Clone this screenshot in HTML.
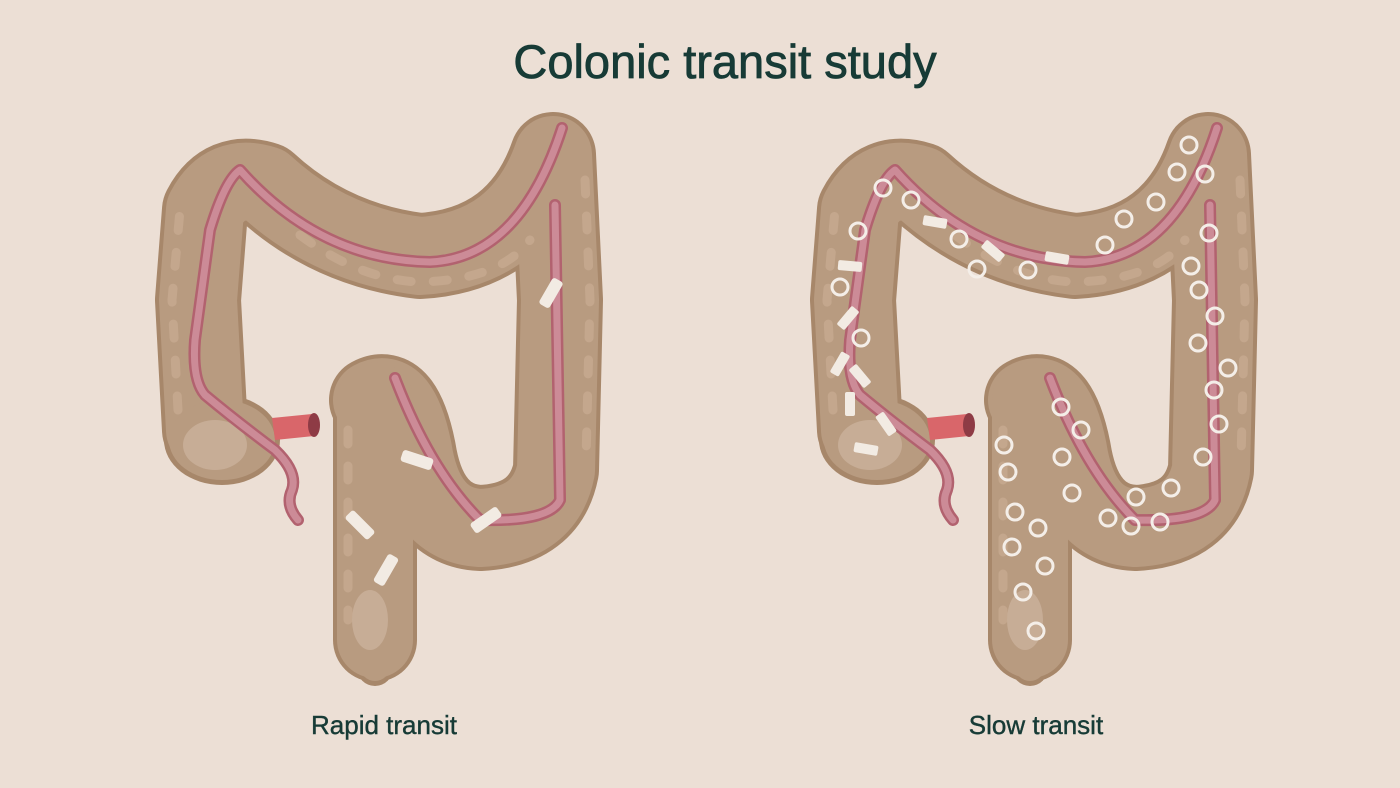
<!DOCTYPE html>
<html><head><style>
html,body{margin:0;padding:0;background:#ecdfd5;}
svg{display:block}
text{font-family:"Liberation Sans",sans-serif;fill:#173b36}
</style></head><body>
<svg width="1400" height="788" viewBox="0 0 1400 788">
<defs>
<g id="colon">
  <g fill="none" stroke="#a7876a" stroke-linecap="round" stroke-linejoin="round">
    <path d="M205,430 L198,300 L205,210 Q225,172 265,185 Q330,245 420,256 Q520,250 553,155 L560,300 L556,470 Q545,525 480,528 Q425,525 413,450 Q400,385 372,400" stroke-width="86"/>
    <path d="M375,400 L375,640" stroke-width="84"/>
    <path d="M375,640 L375,668" stroke-width="36"/>
  </g>
  <ellipse cx="222" cy="440" rx="58" ry="45" fill="#a7876a"/>
  <g fill="none" stroke="#b89b80" stroke-linecap="round" stroke-linejoin="round">
    <path d="M205,430 L198,300 L205,210 Q225,172 265,185 Q330,245 420,256 Q520,250 553,155 L560,300 L556,470 Q545,525 480,528 Q425,525 413,450 Q400,385 372,400" stroke-width="78"/>
    <path d="M375,400 L375,640" stroke-width="76"/>
    <path d="M375,640 L375,666" stroke-width="30"/>
  </g>
  <ellipse cx="222" cy="440" rx="53" ry="40" fill="#b89b80"/>
  <g fill="none" stroke="#c4a78d" stroke-width="9" stroke-linecap="round" stroke-dasharray="14 22">
    <path d="M178,410 L172,300 L180,210"/>
    <path d="M585,180 L590,300 L586,460"/>
    <path d="M300,235 Q360,280 420,282 Q500,280 530,240"/>
    <path d="M348,430 L348,620"/>
  </g>
  <ellipse cx="215" cy="445" rx="32" ry="25" fill="#c7ad96"/>
  <ellipse cx="370" cy="620" rx="18" ry="30" fill="#c7ad96"/>
  <path d="M272,418 L312,414 L314,436 L275,440 Z" fill="#d9666a"/>
  <ellipse cx="314" cy="425" rx="6" ry="12" fill="#8e3b45"/>
  <g fill="none" stroke-linecap="round" stroke-linejoin="round">
    <path d="M298,520 Q285,505 292,490 Q298,472 275,450 Q235,420 205,395 Q192,380 195,340 L210,230 Q225,180 240,170 Q320,260 430,262 Q520,258 562,128 M555,205 L560,500 Q550,522 480,520 Q430,470 395,378" stroke="#b2626f" stroke-width="12"/>
    <path d="M298,520 Q285,505 292,490 Q298,472 275,450 Q235,420 205,395 Q192,380 195,340 L210,230 Q225,180 240,170 Q320,260 430,262 Q520,258 562,128 M555,205 L560,500 Q550,522 480,520 Q430,470 395,378" stroke="#cc8b97" stroke-width="7"/>
  </g>
</g>
</defs>
<text x="725" y="78" font-size="47" text-anchor="middle" stroke="#173b36" stroke-width="0.8">Colonic transit study</text>
<text x="384" y="734" font-size="26" text-anchor="middle" stroke="#173b36" stroke-width="0.4">Rapid transit</text>
<text x="1036" y="734" font-size="26" text-anchor="middle" stroke="#173b36" stroke-width="0.4">Slow transit</text>

<use href="#colon"/>
<g fill="#f2ebe3">
  <rect x="-6" y="-15" width="12" height="30" rx="3" transform="translate(551,293) rotate(30)"/>
  <rect x="-6" y="-16" width="12" height="32" rx="3" transform="translate(417,460) rotate(-72)"/>
  <rect x="-6" y="-16" width="12" height="32" rx="3" transform="translate(486,520) rotate(55)"/>
  <rect x="-6" y="-16" width="12" height="32" rx="3" transform="translate(360,525) rotate(-45)"/>
  <rect x="-6" y="-16" width="12" height="32" rx="3" transform="translate(386,570) rotate(30)"/>
</g>

<use href="#colon" transform="translate(655,0)"/>
<g fill="#f2ebe3">
  <rect x="-5" y="-12" width="10" height="24" rx="2" transform="translate(935,222) rotate(-80)"/>
  <rect x="-5" y="-12" width="10" height="24" rx="2" transform="translate(993,251) rotate(-50)"/>
  <rect x="-5" y="-12" width="10" height="24" rx="2" transform="translate(1057,258) rotate(-80)"/>
  <rect x="-5" y="-12" width="10" height="24" rx="2" transform="translate(850,266) rotate(-85)"/>
  <rect x="-5" y="-12" width="10" height="24" rx="2" transform="translate(848,318) rotate(40)"/>
  <rect x="-5" y="-12" width="10" height="24" rx="2" transform="translate(840,364) rotate(30)"/>
  <rect x="-5" y="-12" width="10" height="24" rx="2" transform="translate(860,376) rotate(-40)"/>
  <rect x="-5" y="-12" width="10" height="24" rx="2" transform="translate(850,404) rotate(0)"/>
  <rect x="-5" y="-12" width="10" height="24" rx="2" transform="translate(886,424) rotate(-35)"/>
  <rect x="-5" y="-12" width="10" height="24" rx="2" transform="translate(866,449) rotate(-80)"/>
</g>
<g fill="none" stroke="#f4eee8" stroke-width="3">
  <circle cx="883" cy="188" r="8"/><circle cx="911" cy="200" r="8"/><circle cx="858" cy="231" r="8"/>
  <circle cx="959" cy="239" r="8"/><circle cx="977" cy="269" r="8"/><circle cx="1028" cy="270" r="8"/>
  <circle cx="1105" cy="245" r="8"/><circle cx="1124" cy="219" r="8"/><circle cx="1156" cy="202" r="8"/>
  <circle cx="1177" cy="172" r="8"/><circle cx="1189" cy="145" r="8"/><circle cx="1205" cy="174" r="8"/>
  <circle cx="1209" cy="233" r="8"/><circle cx="1191" cy="266" r="8"/><circle cx="1199" cy="290" r="8"/>
  <circle cx="1215" cy="316" r="8"/><circle cx="1198" cy="343" r="8"/><circle cx="1228" cy="368" r="8"/>
  <circle cx="1214" cy="390" r="8"/><circle cx="1219" cy="424" r="8"/><circle cx="1203" cy="457" r="8"/>
  <circle cx="1171" cy="488" r="8"/><circle cx="1136" cy="497" r="8"/><circle cx="1160" cy="522" r="8"/>
  <circle cx="1131" cy="526" r="8"/><circle cx="1108" cy="518" r="8"/><circle cx="1072" cy="493" r="8"/>
  <circle cx="1062" cy="457" r="8"/><circle cx="1081" cy="430" r="8"/><circle cx="1061" cy="407" r="8"/>
  <circle cx="840" cy="287" r="8"/><circle cx="861" cy="338" r="8"/>
  <circle cx="1004" cy="445" r="8"/><circle cx="1008" cy="472" r="8"/><circle cx="1015" cy="512" r="8"/>
  <circle cx="1038" cy="528" r="8"/><circle cx="1012" cy="547" r="8"/><circle cx="1045" cy="566" r="8"/>
  <circle cx="1023" cy="592" r="8"/><circle cx="1036" cy="631" r="8"/>
</g>
</svg>
</body></html>
